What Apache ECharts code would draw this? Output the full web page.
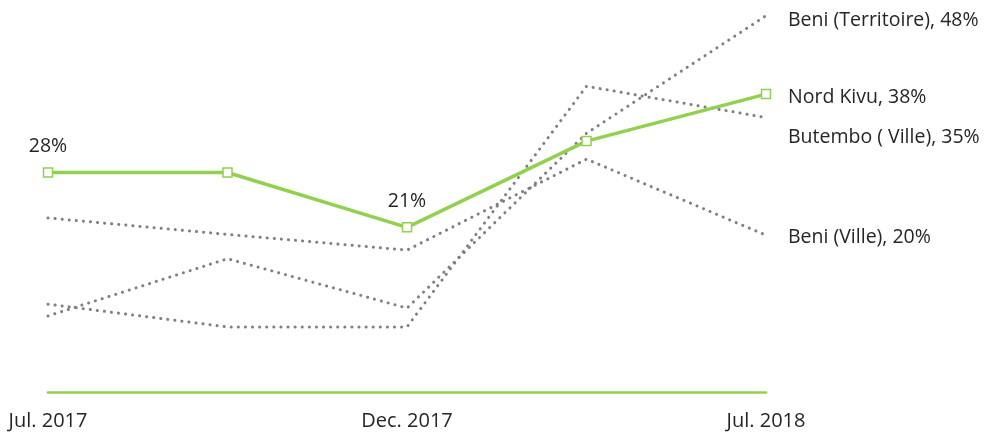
<!DOCTYPE html>
<html>
<head>
<meta charset="utf-8">
<script src="https://cdn.jsdelivr.net/npm/echarts@6/dist/echarts.min.js"></script>
<style>
  html, body { margin: 0; padding: 0; background: #fff; }
  #chart { width: 987px; height: 436px; }
</style>
</head>
<body>
<div id="chart"></div>
<script>
// periodes (only 1st, 3rd and 5th are labelled)
const categories = ['Jul. 2017', '', 'Dec. 2017', '', 'Jul. 2018']

const beniTerritoire = [9.7, 17, 10.7, 33, 48]
const butemboVille = [11.2, 8.3, 8.3, 39, 35]
const beniVille = [22.2, 20.1, 18.1, 29.7, 20]
const nordKivu = [28, 28, 21, 32, 38]

// which Nord Kivu points carry a value label
const nordKivuLabelled = [0, 2]

const green = '#92D050'
const grey = '#7f7f7f'
const textFont = '"Open Sans", sans-serif'

const chart = echarts.init(document.getElementById('chart'))

function dotted(name, data, labelOffset) {
  return {
    name: name,
    type: 'line',
    data: data,
    symbol: 'none',
    silent: true,
    animation: false,
    lineStyle: { color: grey, width: 3, type: [0.1, 7], cap: 'round' },
    endLabel: {
      show: true,
      formatter: '{a}, {c}%',
      color: '#262626',
      fontFamily: textFont,
      fontSize: 19.5,
      distance: 22,
      offset: labelOffset || [0, 0]
    }
  }
}

chart.setOption({
  animation: false,
  grid: { top: 0, left: 48, right: 221, bottom: 44 },
  xAxis: {
    type: 'category',
    data: categories,
    boundaryGap: false,
    axisLine: { lineStyle: { color: green, width: 2.5 } },
    axisTick: { show: false },
    axisLabel: {
      interval: 0,
      margin: 19,
      color: '#262626',
      fontFamily: textFont,
      fontSize: 20
    }
  },
  yAxis: {
    type: 'value',
    min: 0,
    max: 50,
    show: false,
    splitLine: { show: false }
  },
  series: [
    dotted('Beni (Territoire)', beniTerritoire, [0, 5]),
    dotted('Butembo ( Ville)', butemboVille, [0, 20]),
    dotted('Beni (Ville)', beniVille, [0, 2]),
    {
      name: 'Nord Kivu',
      type: 'line',
      data: nordKivu,
      symbol: 'rect',
      symbolSize: 9,
      z: 5,
      itemStyle: { color: '#fff', borderColor: green, borderWidth: 1.5 },
      lineStyle: { color: green, width: 3.5 },
      label: {
        show: true,
        position: 'top',
        distance: 11,
        color: '#262626',
        fontFamily: textFont,
        fontSize: 19.5,
        formatter: p => nordKivuLabelled.includes(p.dataIndex) ? p.value + '%' : ''
      },
      endLabel: {
        show: true,
        formatter: '{a}, {c}%',
        color: '#262626',
        fontFamily: textFont,
        fontSize: 19.5,
        distance: 22,
        offset: [0, 3]
      }
    }
  ]
})
</script>
</body>
</html>
